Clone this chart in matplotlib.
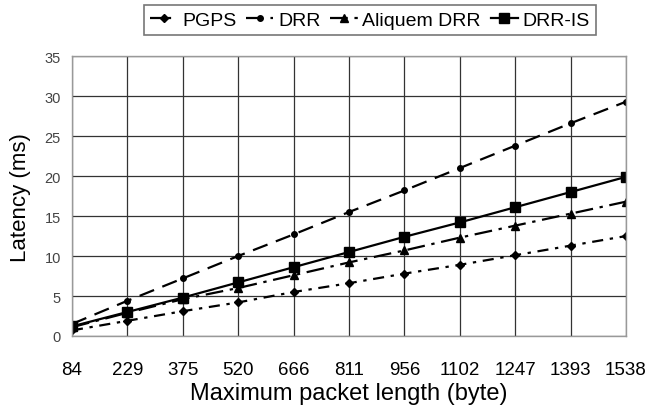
import matplotlib
matplotlib.use("Agg")
from matplotlib import pyplot as plt

plt.rcParams['font.family'] = ['Liberation Sans', 'DejaVu Sans']

# 数据
lengths = ["84", "229", "375", "520", "666", "811", "956", "1102", "1247", "1393", "1538"]
pgps = [0.7, 1.9, 3.1, 4.2, 5.5, 6.6, 7.8, 8.9, 10.1, 11.3, 12.5]
drr = [1.5, 4.4, 7.2, 10.0, 12.7, 15.5, 18.2, 21.0, 23.8, 26.6, 29.3]
aliquem = [1.1, 2.9, 4.6, 6.0, 7.6, 9.2, 10.7, 12.3, 13.8, 15.3, 16.8]
drr_is = [1.2, 3.0, 4.8, 6.7, 8.6, 10.5, 12.4, 14.2, 16.1, 18.0, 19.9]

x = range(len(lengths))

fig = plt.figure(figsize=(6.48, 4.14), dpi=100)
ax = fig.add_axes([0.111, 0.186, 0.855, 0.676])

ax.plot(x, pgps, color='black', lw=1.6, dashes=(5, 3, 1.5, 3),
        marker='D', ms=4, label='PGPS')
ax.plot(x, drr, color='black', lw=1.6, dashes=(7, 4),
        marker='o', ms=4, label='DRR')
ax.plot(x, aliquem, color='black', lw=1.6, dashes=(8, 3, 1.5, 3),
        marker='^', ms=5.5, label='Aliquem DRR')
ax.plot(x, drr_is, color='black', lw=1.6,
        marker='s', ms=7, label='DRR-IS')

ax.set_xlim(0, len(lengths) - 1)
ax.set_ylim(0, 35)
ax.set_xticks(list(x))
ax.set_xticklabels(lengths, fontsize=13.5)
ax.set_yticks(range(0, 36, 5))
ax.tick_params(axis='y', labelsize=10.5, length=0, pad=8, colors='#444444')
ax.tick_params(axis='x', length=0, pad=18)

ax.grid(True, color='#333333', lw=0.9)
for s in ax.spines.values():
    s.set_color('#999999')
    s.set_linewidth(1.0)

ax.set_xlabel("Maximum packet length (byte)", fontsize=17, labelpad=3)
ax.set_ylabel("Latency (ms)", fontsize=16, labelpad=10)

leg = fig.legend(loc='upper center', bbox_to_anchor=(0.571, 1.008), ncol=4,
                 fontsize=14, frameon=True, fancybox=False, handlelength=1.4,
                 handletextpad=0.25, columnspacing=0.5, borderpad=0.3)
leg.get_frame().set_edgecolor('#555555')
leg.get_frame().set_linewidth(1.2)

plt.savefig("out.png")
